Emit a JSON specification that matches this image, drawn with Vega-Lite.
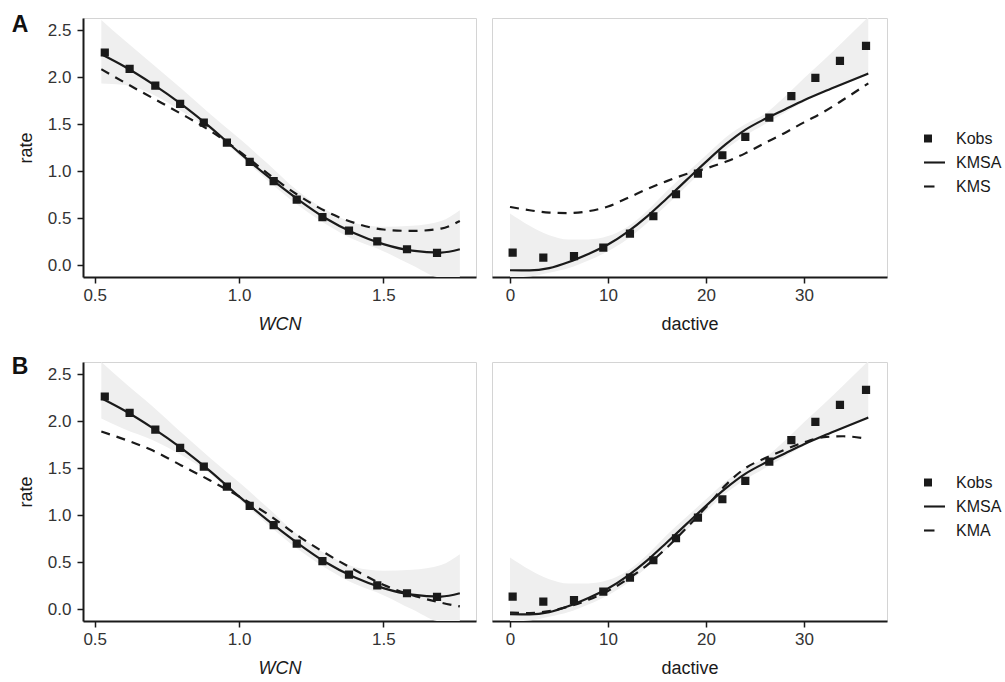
{
  "$schema": "https://vega.github.io/schema/vega-lite/v6.json",
  "padding": {"left": 11, "top": 13, "right": 0, "bottom": 0},
  "background": "white",
  "datasets": {
    "obs": [
      {"var": "WCN", "x": 0.535, "y": 2.263}, {"var": "WCN", "x": 0.621, "y": 2.089}, {"var": "WCN", "x": 0.71, "y": 1.911},
      {"var": "WCN", "x": 0.796, "y": 1.716}, {"var": "WCN", "x": 0.878, "y": 1.518}, {"var": "WCN", "x": 0.958, "y": 1.305},
      {"var": "WCN", "x": 1.037, "y": 1.099}, {"var": "WCN", "x": 1.12, "y": 0.894}, {"var": "WCN", "x": 1.2, "y": 0.699},
      {"var": "WCN", "x": 1.289, "y": 0.511}, {"var": "WCN", "x": 1.381, "y": 0.369}, {"var": "WCN", "x": 1.479, "y": 0.255},
      {"var": "WCN", "x": 1.582, "y": 0.17}, {"var": "WCN", "x": 1.686, "y": 0.131},
      {"var": "dactive", "x": 0.27, "y": 0.135}, {"var": "dactive", "x": 3.4, "y": 0.082}, {"var": "dactive", "x": 6.53, "y": 0.096},
      {"var": "dactive", "x": 9.52, "y": 0.188}, {"var": "dactive", "x": 12.24, "y": 0.337}, {"var": "dactive", "x": 14.63, "y": 0.521},
      {"var": "dactive", "x": 16.94, "y": 0.755}, {"var": "dactive", "x": 19.18, "y": 0.975}, {"var": "dactive", "x": 21.67, "y": 1.17},
      {"var": "dactive", "x": 24.01, "y": 1.365}, {"var": "dactive", "x": 26.46, "y": 1.571}, {"var": "dactive", "x": 28.71, "y": 1.798},
      {"var": "dactive", "x": 31.16, "y": 1.993}, {"var": "dactive", "x": 33.67, "y": 2.174}, {"var": "dactive", "x": 36.33, "y": 2.333}
    ],
    "fits": [
      {"series": "KMSA", "var": "WCN", "x": 0.523, "y": 2.245}, {"series": "KMSA", "var": "WCN", "x": 0.6, "y": 2.12},
      {"series": "KMSA", "var": "WCN", "x": 0.7, "y": 1.93}, {"series": "KMSA", "var": "WCN", "x": 0.8, "y": 1.715},
      {"series": "KMSA", "var": "WCN", "x": 0.9, "y": 1.47}, {"series": "KMSA", "var": "WCN", "x": 1.0, "y": 1.2},
      {"series": "KMSA", "var": "WCN", "x": 1.1, "y": 0.945}, {"series": "KMSA", "var": "WCN", "x": 1.2, "y": 0.71},
      {"series": "KMSA", "var": "WCN", "x": 1.3, "y": 0.5}, {"series": "KMSA", "var": "WCN", "x": 1.4, "y": 0.34},
      {"series": "KMSA", "var": "WCN", "x": 1.5, "y": 0.225}, {"series": "KMSA", "var": "WCN", "x": 1.6, "y": 0.155},
      {"series": "KMSA", "var": "WCN", "x": 1.7, "y": 0.135}, {"series": "KMSA", "var": "WCN", "x": 1.765, "y": 0.17},
      {"series": "KMS", "var": "WCN", "x": 0.523, "y": 2.085}, {"series": "KMS", "var": "WCN", "x": 0.6, "y": 1.95},
      {"series": "KMS", "var": "WCN", "x": 0.7, "y": 1.78}, {"series": "KMS", "var": "WCN", "x": 0.8, "y": 1.61},
      {"series": "KMS", "var": "WCN", "x": 0.9, "y": 1.43}, {"series": "KMS", "var": "WCN", "x": 1.0, "y": 1.215},
      {"series": "KMS", "var": "WCN", "x": 1.1, "y": 0.975}, {"series": "KMS", "var": "WCN", "x": 1.2, "y": 0.755},
      {"series": "KMS", "var": "WCN", "x": 1.3, "y": 0.575}, {"series": "KMS", "var": "WCN", "x": 1.4, "y": 0.45},
      {"series": "KMS", "var": "WCN", "x": 1.5, "y": 0.38}, {"series": "KMS", "var": "WCN", "x": 1.6, "y": 0.365},
      {"series": "KMS", "var": "WCN", "x": 1.7, "y": 0.39}, {"series": "KMS", "var": "WCN", "x": 1.765, "y": 0.47},
      {"series": "KMA", "var": "WCN", "x": 0.523, "y": 1.89}, {"series": "KMA", "var": "WCN", "x": 0.6, "y": 1.81},
      {"series": "KMA", "var": "WCN", "x": 0.7, "y": 1.69}, {"series": "KMA", "var": "WCN", "x": 0.8, "y": 1.53},
      {"series": "KMA", "var": "WCN", "x": 0.9, "y": 1.37}, {"series": "KMA", "var": "WCN", "x": 1.0, "y": 1.2},
      {"series": "KMA", "var": "WCN", "x": 1.1, "y": 1.01}, {"series": "KMA", "var": "WCN", "x": 1.2, "y": 0.79},
      {"series": "KMA", "var": "WCN", "x": 1.3, "y": 0.595}, {"series": "KMA", "var": "WCN", "x": 1.4, "y": 0.42},
      {"series": "KMA", "var": "WCN", "x": 1.5, "y": 0.26}, {"series": "KMA", "var": "WCN", "x": 1.6, "y": 0.15},
      {"series": "KMA", "var": "WCN", "x": 1.7, "y": 0.07}, {"series": "KMA", "var": "WCN", "x": 1.765, "y": 0.03},
      {"series": "KMSA", "var": "dactive", "x": 0, "y": -0.053}, {"series": "KMSA", "var": "dactive", "x": 2, "y": -0.055},
      {"series": "KMSA", "var": "dactive", "x": 4, "y": -0.03}, {"series": "KMSA", "var": "dactive", "x": 6, "y": 0.035},
      {"series": "KMSA", "var": "dactive", "x": 8, "y": 0.12}, {"series": "KMSA", "var": "dactive", "x": 10, "y": 0.22},
      {"series": "KMSA", "var": "dactive", "x": 12, "y": 0.355}, {"series": "KMSA", "var": "dactive", "x": 14, "y": 0.52},
      {"series": "KMSA", "var": "dactive", "x": 16, "y": 0.71}, {"series": "KMSA", "var": "dactive", "x": 18, "y": 0.905},
      {"series": "KMSA", "var": "dactive", "x": 20, "y": 1.1}, {"series": "KMSA", "var": "dactive", "x": 22, "y": 1.285},
      {"series": "KMSA", "var": "dactive", "x": 24, "y": 1.44}, {"series": "KMSA", "var": "dactive", "x": 26, "y": 1.555},
      {"series": "KMSA", "var": "dactive", "x": 28, "y": 1.655}, {"series": "KMSA", "var": "dactive", "x": 30, "y": 1.755},
      {"series": "KMSA", "var": "dactive", "x": 32, "y": 1.845}, {"series": "KMSA", "var": "dactive", "x": 34, "y": 1.93},
      {"series": "KMSA", "var": "dactive", "x": 36.56, "y": 2.04},
      {"series": "KMS", "var": "dactive", "x": 0, "y": 0.62}, {"series": "KMS", "var": "dactive", "x": 2, "y": 0.585},
      {"series": "KMS", "var": "dactive", "x": 4, "y": 0.56}, {"series": "KMS", "var": "dactive", "x": 6, "y": 0.555},
      {"series": "KMS", "var": "dactive", "x": 8, "y": 0.575}, {"series": "KMS", "var": "dactive", "x": 10, "y": 0.625},
      {"series": "KMS", "var": "dactive", "x": 12, "y": 0.715}, {"series": "KMS", "var": "dactive", "x": 14, "y": 0.81},
      {"series": "KMS", "var": "dactive", "x": 16, "y": 0.895}, {"series": "KMS", "var": "dactive", "x": 18, "y": 0.97},
      {"series": "KMS", "var": "dactive", "x": 20, "y": 1.03}, {"series": "KMS", "var": "dactive", "x": 22, "y": 1.1},
      {"series": "KMS", "var": "dactive", "x": 24, "y": 1.19}, {"series": "KMS", "var": "dactive", "x": 26, "y": 1.3},
      {"series": "KMS", "var": "dactive", "x": 28, "y": 1.405}, {"series": "KMS", "var": "dactive", "x": 30, "y": 1.52},
      {"series": "KMS", "var": "dactive", "x": 32, "y": 1.63}, {"series": "KMS", "var": "dactive", "x": 34, "y": 1.76},
      {"series": "KMS", "var": "dactive", "x": 36.56, "y": 1.935},
      {"series": "KMA", "var": "dactive", "x": 0, "y": -0.035}, {"series": "KMA", "var": "dactive", "x": 2, "y": -0.04},
      {"series": "KMA", "var": "dactive", "x": 4, "y": -0.02}, {"series": "KMA", "var": "dactive", "x": 6, "y": 0.03},
      {"series": "KMA", "var": "dactive", "x": 8, "y": 0.1}, {"series": "KMA", "var": "dactive", "x": 10, "y": 0.195},
      {"series": "KMA", "var": "dactive", "x": 12, "y": 0.32}, {"series": "KMA", "var": "dactive", "x": 14, "y": 0.47},
      {"series": "KMA", "var": "dactive", "x": 16, "y": 0.655}, {"series": "KMA", "var": "dactive", "x": 18, "y": 0.865},
      {"series": "KMA", "var": "dactive", "x": 20, "y": 1.085}, {"series": "KMA", "var": "dactive", "x": 22, "y": 1.32},
      {"series": "KMA", "var": "dactive", "x": 24, "y": 1.5}, {"series": "KMA", "var": "dactive", "x": 26, "y": 1.605},
      {"series": "KMA", "var": "dactive", "x": 28, "y": 1.695}, {"series": "KMA", "var": "dactive", "x": 30, "y": 1.775},
      {"series": "KMA", "var": "dactive", "x": 32, "y": 1.83}, {"series": "KMA", "var": "dactive", "x": 34, "y": 1.84},
      {"series": "KMA", "var": "dactive", "x": 36.4, "y": 1.815}
    ],
    "band": [
      {"panel": "A", "var": "WCN", "x": 0.523, "lo": 1.933, "hi": 2.61}, {"panel": "A", "var": "WCN", "x": 0.6, "lo": 1.92, "hi": 2.4},
      {"panel": "A", "var": "WCN", "x": 0.7, "lo": 1.82, "hi": 2.14}, {"panel": "A", "var": "WCN", "x": 0.8, "lo": 1.64, "hi": 1.88},
      {"panel": "A", "var": "WCN", "x": 0.9, "lo": 1.44, "hi": 1.61}, {"panel": "A", "var": "WCN", "x": 1.0, "lo": 1.17, "hi": 1.35},
      {"panel": "A", "var": "WCN", "x": 1.1, "lo": 0.9, "hi": 1.08}, {"panel": "A", "var": "WCN", "x": 1.2, "lo": 0.65, "hi": 0.8},
      {"panel": "A", "var": "WCN", "x": 1.3, "lo": 0.44, "hi": 0.59}, {"panel": "A", "var": "WCN", "x": 1.4, "lo": 0.27, "hi": 0.45},
      {"panel": "A", "var": "WCN", "x": 1.5, "lo": 0.15, "hi": 0.41}, {"panel": "A", "var": "WCN", "x": 1.6, "lo": 0.0, "hi": 0.42},
      {"panel": "A", "var": "WCN", "x": 1.7, "lo": -0.13, "hi": 0.47}, {"panel": "A", "var": "WCN", "x": 1.765, "lo": -0.13, "hi": 0.585},
      {"panel": "B", "var": "WCN", "x": 0.523, "lo": 2.03, "hi": 2.63}, {"panel": "B", "var": "WCN", "x": 0.6, "lo": 1.92, "hi": 2.42},
      {"panel": "B", "var": "WCN", "x": 0.7, "lo": 1.8, "hi": 2.16}, {"panel": "B", "var": "WCN", "x": 0.8, "lo": 1.64, "hi": 1.88},
      {"panel": "B", "var": "WCN", "x": 0.9, "lo": 1.44, "hi": 1.61}, {"panel": "B", "var": "WCN", "x": 1.0, "lo": 1.17, "hi": 1.35},
      {"panel": "B", "var": "WCN", "x": 1.1, "lo": 0.9, "hi": 1.08}, {"panel": "B", "var": "WCN", "x": 1.2, "lo": 0.65, "hi": 0.8},
      {"panel": "B", "var": "WCN", "x": 1.3, "lo": 0.44, "hi": 0.59}, {"panel": "B", "var": "WCN", "x": 1.4, "lo": 0.27, "hi": 0.45},
      {"panel": "B", "var": "WCN", "x": 1.5, "lo": 0.15, "hi": 0.41}, {"panel": "B", "var": "WCN", "x": 1.6, "lo": 0.0, "hi": 0.42},
      {"panel": "B", "var": "WCN", "x": 1.7, "lo": -0.13, "hi": 0.47}, {"panel": "B", "var": "WCN", "x": 1.765, "lo": -0.13, "hi": 0.585},
      {"panel": "A", "var": "dactive", "x": 0, "lo": -0.13, "hi": 0.55}, {"panel": "A", "var": "dactive", "x": 2, "lo": -0.12, "hi": 0.42},
      {"panel": "A", "var": "dactive", "x": 4, "lo": -0.08, "hi": 0.32}, {"panel": "A", "var": "dactive", "x": 6, "lo": -0.03, "hi": 0.275},
      {"panel": "A", "var": "dactive", "x": 8, "lo": 0.05, "hi": 0.275}, {"panel": "A", "var": "dactive", "x": 10, "lo": 0.15, "hi": 0.31},
      {"panel": "A", "var": "dactive", "x": 12, "lo": 0.28, "hi": 0.41}, {"panel": "A", "var": "dactive", "x": 14, "lo": 0.45, "hi": 0.58},
      {"panel": "A", "var": "dactive", "x": 16, "lo": 0.64, "hi": 0.79}, {"panel": "A", "var": "dactive", "x": 18, "lo": 0.84, "hi": 0.98},
      {"panel": "A", "var": "dactive", "x": 20, "lo": 1.04, "hi": 1.17}, {"panel": "A", "var": "dactive", "x": 22, "lo": 1.23, "hi": 1.36},
      {"panel": "A", "var": "dactive", "x": 24, "lo": 1.38, "hi": 1.5}, {"panel": "A", "var": "dactive", "x": 26, "lo": 1.5, "hi": 1.61},
      {"panel": "A", "var": "dactive", "x": 28, "lo": 1.62, "hi": 1.79}, {"panel": "A", "var": "dactive", "x": 30, "lo": 1.74, "hi": 1.99},
      {"panel": "A", "var": "dactive", "x": 32, "lo": 1.84, "hi": 2.18}, {"panel": "A", "var": "dactive", "x": 34, "lo": 1.93, "hi": 2.38},
      {"panel": "A", "var": "dactive", "x": 36.56, "lo": 2.02, "hi": 2.64},
      {"panel": "B", "var": "dactive", "x": 0, "lo": -0.13, "hi": 0.55}, {"panel": "B", "var": "dactive", "x": 2, "lo": -0.12, "hi": 0.42},
      {"panel": "B", "var": "dactive", "x": 4, "lo": -0.08, "hi": 0.32}, {"panel": "B", "var": "dactive", "x": 6, "lo": -0.03, "hi": 0.275},
      {"panel": "B", "var": "dactive", "x": 8, "lo": 0.05, "hi": 0.275}, {"panel": "B", "var": "dactive", "x": 10, "lo": 0.15, "hi": 0.31},
      {"panel": "B", "var": "dactive", "x": 12, "lo": 0.28, "hi": 0.41}, {"panel": "B", "var": "dactive", "x": 14, "lo": 0.45, "hi": 0.58},
      {"panel": "B", "var": "dactive", "x": 16, "lo": 0.64, "hi": 0.79}, {"panel": "B", "var": "dactive", "x": 18, "lo": 0.84, "hi": 0.98},
      {"panel": "B", "var": "dactive", "x": 20, "lo": 1.04, "hi": 1.17}, {"panel": "B", "var": "dactive", "x": 22, "lo": 1.23, "hi": 1.36},
      {"panel": "B", "var": "dactive", "x": 24, "lo": 1.38, "hi": 1.5}, {"panel": "B", "var": "dactive", "x": 26, "lo": 1.5, "hi": 1.61},
      {"panel": "B", "var": "dactive", "x": 28, "lo": 1.62, "hi": 1.79}, {"panel": "B", "var": "dactive", "x": 30, "lo": 1.74, "hi": 1.99},
      {"panel": "B", "var": "dactive", "x": 32, "lo": 1.84, "hi": 2.18}, {"panel": "B", "var": "dactive", "x": 34, "lo": 1.93, "hi": 2.38},
      {"panel": "B", "var": "dactive", "x": 36.56, "lo": 2.02, "hi": 2.64}
    ]
  },
  "spacing": 21,
  "resolve": {"scale": {"shape": "independent"}, "legend": {"shape": "independent"}},
  "vconcat": [
    {
      "title": {"text": "A", "anchor": "start", "frame": "bounds", "fontSize": 23, "fontWeight": "bold", "color": "#111111", "offset": -19, "dx": -5},
      "spacing": 14,
      "hconcat": [
        {
          "width": 393, "height": 259,
          "layer": [
            {"data": {"name": "band"}, "transform": [{"filter": "datum.panel == 'A' && datum.var == 'WCN'"}],
             "mark": {"type": "area", "color": "#efefef", "interpolate": "monotone", "clip": true},
             "encoding": {
               "x": {"field": "x", "type": "quantitative", "scale": {"domain": [0.4595, 1.821], "nice": false, "zero": false}, "axis": {"values": [0.5, 1.0, 1.5], "format": ".1f", "title": "WCN", "titleFontStyle": "italic"}},
               "y": {"field": "lo", "type": "quantitative", "scale": {"domain": [-0.125, 2.63], "nice": false, "zero": false}, "axis": {"values": [0, 0.5, 1, 1.5, 2, 2.5], "format": ".1f", "title": "rate"}},
               "y2": {"field": "hi"}}},
            {"data": {"name": "fits"}, "transform": [{"filter": "datum.series == 'KMSA' && datum.var == 'WCN'"}],
             "mark": {"type": "line", "color": "#1a1a1a", "strokeWidth": 2.2, "interpolate": "monotone", "clip": true},
             "encoding": {"x": {"field": "x", "type": "quantitative"}, "y": {"field": "y", "type": "quantitative"}}},
            {"data": {"name": "fits"}, "transform": [{"filter": "datum.series == 'KMS' && datum.var == 'WCN'"}],
             "mark": {"type": "line", "color": "#1a1a1a", "strokeWidth": 2.2, "strokeDash": [9, 7], "interpolate": "monotone", "clip": true},
             "encoding": {"x": {"field": "x", "type": "quantitative"}, "y": {"field": "y", "type": "quantitative"}}},
            {"data": {"name": "obs"}, "transform": [{"filter": "datum.var == 'WCN'"}],
             "mark": {"type": "point", "filled": true, "opacity": 1, "fill": "#1a1a1a", "stroke": "#1a1a1a", "strokeWidth": 2.2, "shape": "M-0.3,-0.3H0.3V0.3H-0.3Z", "size": 400},
             "encoding": {"x": {"field": "x", "type": "quantitative"}, "y": {"field": "y", "type": "quantitative"}}}
          ]
        },
        {
          "width": 395, "height": 259,
          "layer": [
            {"data": {"name": "band"}, "transform": [{"filter": "datum.panel == 'A' && datum.var == 'dactive'"}],
             "mark": {"type": "area", "color": "#efefef", "interpolate": "monotone", "clip": true},
             "encoding": {
               "x": {"field": "x", "type": "quantitative", "scale": {"domain": [-1.837, 38.47], "nice": false, "zero": false}, "axis": {"values": [0, 10, 20, 30], "title": "dactive"}},
               "y": {"field": "lo", "type": "quantitative", "scale": {"domain": [-0.125, 2.63], "nice": false, "zero": false}, "axis": null},
               "y2": {"field": "hi"}}},
            {"data": {"name": "fits"}, "transform": [{"filter": "datum.series == 'KMSA' && datum.var == 'dactive'"}],
             "mark": {"type": "line", "color": "#1a1a1a", "strokeWidth": 2.2, "interpolate": "monotone", "clip": true},
             "encoding": {"x": {"field": "x", "type": "quantitative"}, "y": {"field": "y", "type": "quantitative"}}},
            {"data": {"name": "fits"}, "transform": [{"filter": "datum.series == 'KMS' && datum.var == 'dactive'"}],
             "mark": {"type": "line", "color": "#1a1a1a", "strokeWidth": 2.2, "strokeDash": [9, 7], "interpolate": "monotone", "clip": true},
             "encoding": {"x": {"field": "x", "type": "quantitative"}, "y": {"field": "y", "type": "quantitative"}}},
            {"data": {"name": "obs"}, "transform": [{"filter": "datum.var == 'dactive'"}],
             "mark": {"type": "point", "filled": true, "opacity": 1, "fill": "#1a1a1a", "stroke": "#1a1a1a", "strokeWidth": 2.2, "shape": "M-0.3,-0.3H0.3V0.3H-0.3Z", "size": 400},
             "encoding": {"x": {"field": "x", "type": "quantitative"}, "y": {"field": "y", "type": "quantitative"}}},
            {"data": {"name": "obs"}, "transform": [{"filter": "datum.var == 'dactive'"}],
             "mark": {"type": "point", "filled": true, "opacity": 0, "fill": "#1a1a1a"},
             "encoding": {
               "x": {"field": "x", "type": "quantitative"}, "y": {"field": "y", "type": "quantitative"},
               "shape": {"datum": "Kobs", "type": "nominal",
                 "scale": {"domain": ["Kobs", "KMSA", "KMS"], "range": ["M-1,-0.38H-0.24V0.38H-1Z", "M-1,-0.1H1V0.1H-1Z", "M-1,-0.1H0V0.1H-1Z"]},
                 "legend": {"title": null, "orient": "none", "legendX": 841, "legendY": 110, "padding": 0, "symbolSize": 441, "rowPadding": 5, "labelFontSize": 16, "labelOffset": 11, "labelColor": "#1a1a1a", "labelFont": "Liberation Sans",
                   "symbolOpacity": 1, "symbolFillColor": "#1a1a1a", "symbolStrokeColor": "#1a1a1a", "symbolStrokeWidth": 0}}}}
          ]
        }
      ]
    },
    {
      "title": {"text": "B", "anchor": "start", "frame": "bounds", "fontSize": 23, "fontWeight": "bold", "color": "#111111", "offset": -17, "dx": -5},
      "spacing": 14,
      "hconcat": [
        {
          "width": 393, "height": 259,
          "layer": [
            {"data": {"name": "band"}, "transform": [{"filter": "datum.panel == 'B' && datum.var == 'WCN'"}],
             "mark": {"type": "area", "color": "#efefef", "interpolate": "monotone", "clip": true},
             "encoding": {
               "x": {"field": "x", "type": "quantitative", "scale": {"domain": [0.4595, 1.821], "nice": false, "zero": false}, "axis": {"values": [0.5, 1.0, 1.5], "format": ".1f", "title": "WCN", "titleFontStyle": "italic"}},
               "y": {"field": "lo", "type": "quantitative", "scale": {"domain": [-0.125, 2.63], "nice": false, "zero": false}, "axis": {"values": [0, 0.5, 1, 1.5, 2, 2.5], "format": ".1f", "title": "rate"}},
               "y2": {"field": "hi"}}},
            {"data": {"name": "fits"}, "transform": [{"filter": "datum.series == 'KMSA' && datum.var == 'WCN'"}],
             "mark": {"type": "line", "color": "#1a1a1a", "strokeWidth": 2.2, "interpolate": "monotone", "clip": true},
             "encoding": {"x": {"field": "x", "type": "quantitative"}, "y": {"field": "y", "type": "quantitative"}}},
            {"data": {"name": "fits"}, "transform": [{"filter": "datum.series == 'KMA' && datum.var == 'WCN'"}],
             "mark": {"type": "line", "color": "#1a1a1a", "strokeWidth": 2.2, "strokeDash": [9, 7], "interpolate": "monotone", "clip": true},
             "encoding": {"x": {"field": "x", "type": "quantitative"}, "y": {"field": "y", "type": "quantitative"}}},
            {"data": {"name": "obs"}, "transform": [{"filter": "datum.var == 'WCN'"}],
             "mark": {"type": "point", "filled": true, "opacity": 1, "fill": "#1a1a1a", "stroke": "#1a1a1a", "strokeWidth": 2.2, "shape": "M-0.3,-0.3H0.3V0.3H-0.3Z", "size": 400},
             "encoding": {"x": {"field": "x", "type": "quantitative"}, "y": {"field": "y", "type": "quantitative"}}}
          ]
        },
        {
          "width": 395, "height": 259,
          "layer": [
            {"data": {"name": "band"}, "transform": [{"filter": "datum.panel == 'B' && datum.var == 'dactive'"}],
             "mark": {"type": "area", "color": "#efefef", "interpolate": "monotone", "clip": true},
             "encoding": {
               "x": {"field": "x", "type": "quantitative", "scale": {"domain": [-1.837, 38.47], "nice": false, "zero": false}, "axis": {"values": [0, 10, 20, 30], "title": "dactive"}},
               "y": {"field": "lo", "type": "quantitative", "scale": {"domain": [-0.125, 2.63], "nice": false, "zero": false}, "axis": null},
               "y2": {"field": "hi"}}},
            {"data": {"name": "fits"}, "transform": [{"filter": "datum.series == 'KMSA' && datum.var == 'dactive'"}],
             "mark": {"type": "line", "color": "#1a1a1a", "strokeWidth": 2.2, "interpolate": "monotone", "clip": true},
             "encoding": {"x": {"field": "x", "type": "quantitative"}, "y": {"field": "y", "type": "quantitative"}}},
            {"data": {"name": "fits"}, "transform": [{"filter": "datum.series == 'KMA' && datum.var == 'dactive'"}],
             "mark": {"type": "line", "color": "#1a1a1a", "strokeWidth": 2.2, "strokeDash": [9, 7], "interpolate": "monotone", "clip": true},
             "encoding": {"x": {"field": "x", "type": "quantitative"}, "y": {"field": "y", "type": "quantitative"}}},
            {"data": {"name": "obs"}, "transform": [{"filter": "datum.var == 'dactive'"}],
             "mark": {"type": "point", "filled": true, "opacity": 1, "fill": "#1a1a1a", "stroke": "#1a1a1a", "strokeWidth": 2.2, "shape": "M-0.3,-0.3H0.3V0.3H-0.3Z", "size": 400},
             "encoding": {"x": {"field": "x", "type": "quantitative"}, "y": {"field": "y", "type": "quantitative"}}},
            {"data": {"name": "obs"}, "transform": [{"filter": "datum.var == 'dactive'"}],
             "mark": {"type": "point", "filled": true, "opacity": 0, "fill": "#1a1a1a"},
             "encoding": {
               "x": {"field": "x", "type": "quantitative"}, "y": {"field": "y", "type": "quantitative"},
               "shape": {"datum": "Kobs", "type": "nominal",
                 "scale": {"domain": ["Kobs", "KMSA", "KMA"], "range": ["M-1,-0.38H-0.24V0.38H-1Z", "M-1,-0.1H1V0.1H-1Z", "M-1,-0.1H0V0.1H-1Z"]},
                 "legend": {"title": null, "orient": "none", "legendX": 841, "legendY": 110, "padding": 0, "symbolSize": 441, "rowPadding": 5, "labelFontSize": 16, "labelOffset": 11, "labelColor": "#1a1a1a", "labelFont": "Liberation Sans",
                   "symbolOpacity": 1, "symbolFillColor": "#1a1a1a", "symbolStrokeColor": "#1a1a1a", "symbolStrokeWidth": 0}}}}
          ]
        }
      ]
    }
  ],
  "config": {
    "font": "Liberation Sans",
    "view": {"stroke": "#d4d4d4", "strokeWidth": 1},
    "title": {"font": "Liberation Sans"},
    "axis": {"grid": false, "domainColor": "#1a1a1a", "domainWidth": 2, "tickColor": "#1a1a1a", "tickWidth": 1.5, "tickSize": 6,
             "labelFont": "Liberation Sans", "labelFontSize": 17, "labelColor": "#333333",
             "titleFont": "Liberation Sans", "titleFontSize": 18, "titleFontWeight": "normal", "titleColor": "#1a1a1a"},
    "axisX": {"labelPadding": 4, "titlePadding": 12},
    "axisY": {"labelPadding": 6, "titlePadding": 12}
  }
}
